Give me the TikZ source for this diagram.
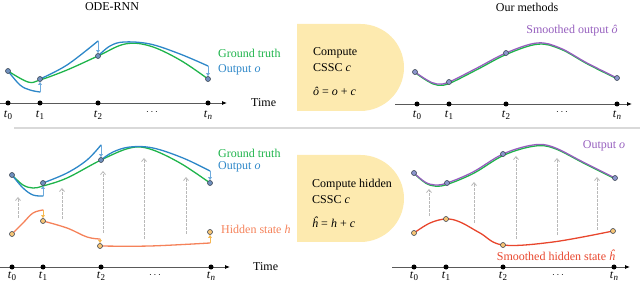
\documentclass[tikz,border=0pt]{standalone}
\usepackage{fontspec}
\setmainfont{Liberation Serif}
\usetikzlibrary{arrows.meta}
\definecolor{gtgreen}{RGB}{30,180,75}
\definecolor{outblue}{RGB}{45,135,200}
\definecolor{arrblue}{RGB}{110,170,220}
\definecolor{hidor}{RGB}{245,130,90}
\definecolor{arror}{RGB}{245,185,80}
\definecolor{smred}{RGB}{232,70,45}
\definecolor{smpurple}{RGB}{150,95,190}
\definecolor{boxy}{RGB}{253,234,175}
\definecolor{ptblue}{RGB}{112,145,190}
\definecolor{ptlav}{RGB}{140,150,205}
\definecolor{ptor}{RGB}{247,197,117}
\definecolor{ptline}{RGB}{60,70,85}
\newcommand{\tsub}[1]{\textit{t}\kern0.3pt\raisebox{-2pt}{\fontsize{9}{10}\selectfont #1}}
\tikzset{
  lbl/.style={font=\fontsize{12}{14}\selectfont, inner sep=1pt},
  pt/.style={circle, inner sep=0pt, minimum size=5pt, draw=ptline, line width=0.6pt},
  ptb/.style={pt, fill=ptblue},
  ptl/.style={pt, fill=ptlav},
  pto/.style={pt, fill=ptor},
  axdot/.style={circle, fill=black, inner sep=0pt, minimum size=5pt},
  axisline/.style={draw=black!65, line width=0.8pt, -{Latex[length=5pt,width=4pt,color=black]}},
  curve/.style={line width=1.3pt, line cap=round},
  garrow/.style={draw=gray!55, dash pattern=on 2.5pt off 1.5pt, line width=0.8pt, -{Straight Barb[length=3pt,width=5pt]}},
  barrow/.style={draw=arrblue, line width=0.8pt, -{Triangle[length=3pt,width=3.5pt]}},
  oarrow/.style={draw=arror, line width=0.8pt, -{Triangle[length=3pt,width=3.5pt]}},
  boxshape/.style={fill=boxy},
  dotslbl/.style={lbl, font=\fontsize{10}{11}\selectfont},
}
\begin{document}
\begin{tikzpicture}[x=1pt,y=-1pt]
\useasboundingbox (0,0) rectangle (640,283);

% headings
\node[lbl] (h1) at (112,7) {ODE-RNN};
\node[lbl] (h2) at (527,7) {Our methods};

% separator
\draw[gray!30, line width=1.2pt] (14,128) -- (640,128);

% middle boxes
\fill[boxshape] (297,24) -- (360.5,24) arc[start angle=-90, end angle=90, radius=43.5] -- (297,111) -- cycle;
\fill[boxshape] (297,155) -- (360.5,155) arc[start angle=-90, end angle=90, radius=43.5] -- (297,242) -- cycle;
\node[lbl, anchor=west] (b1a) at (312,53) {Compute};
\node[lbl, anchor=west] (b1b) at (312,68) {CSSC \textit{c}};
\node[lbl, anchor=west] (b1c) at (312,91) {\textit{ô} = \textit{o} + \textit{c}};
\node[lbl, anchor=west] (b2a) at (311,185) {Compute hidden};
\node[lbl, anchor=west] (b2b) at (311,200) {CSSC \textit{c}};
\node[lbl, anchor=west] (b2c) at (311,222) {\textit{ĥ} = \textit{h} + \textit{c}};

% ================= top-left =================
\coordinate (ax1s) at (0,103); \coordinate (ax1e) at (227,103);
\draw[axisline] (ax1s) -- (ax1e);
\foreach \x/\n/\l in {8/0/0,40/1/1,98/2/2,208/3/\textit{n}}{
  \node[axdot] (ta\n) at (\x,103) {};
  \node[lbl] (tla\n) at (\x,115) {\tsub{\l}};
}
\node[dotslbl] (dta) at (152,112) {$\cdots$};
\node[lbl, anchor=west] (timea) at (250,103) {Time};

\draw[curve, gtgreen] plot[smooth, tension=0.6] coordinates {(8,71) (28,82) (40,80) (67,70) (98,56) (125,44) (150,46) (180,60) (208,79)};
\coordinate (ba1) at (40,92); \coordinate (ba2) at (98,41); \coordinate (ba3) at (208,66);
\draw[curve, outblue] plot[smooth, tension=0.6] coordinates {(8,71) (20,85) (30,90) (ba1)};
\draw[curve, outblue] plot[smooth, tension=0.6] coordinates {(40,79) (67,65) (ba2)};
\draw[curve, outblue] plot[smooth, tension=0.6] coordinates {(98,56) (110,46) (124,42) (150,44) (180,54) (ba3)};
\node[ptb] (a0) at (8,71) {};
\node[ptb] (a1) at (40,79) {};
\node[ptb] (a2) at (98,56) {};
\node[ptb] (a3) at (208,79) {};
\draw[barrow] (ba1) -- (a1);
\draw[barrow] (ba2) -- (a2);
\draw[barrow] (ba3) -- (a3);
\node[lbl, anchor=west, text=gtgreen] (gta) at (217,53) {Ground truth};
\node[lbl, anchor=west, text=outblue] (oa) at (217,70) {Output \textit{o}};

% ================= bottom-left =================
\coordinate (ax2s) at (0,267); \coordinate (ax2e) at (230,267);
\draw[axisline] (ax2s) -- (ax2e);
\foreach \x/\n/\l in {12/0/0,43/1/1,101/2/2,211/3/\textit{n}}{
  \node[axdot] (tb\n) at (\x,267) {};
  \node[lbl] (tlb\n) at (\x,276) {\tsub{\l}};
}
\node[dotslbl] (dtb) at (155,275) {$\cdots$};
\node[lbl, anchor=west] (timeb) at (252,267) {Time};

% dashed influence arrows
\foreach \x/\ya/\yb [count=\i] in {18/218/197, 62/219/188, 103/233/171, 144/239/158, 186/234/177}{
  \coordinate (gbs\i) at (\x,\ya); \coordinate (gbe\i) at (\x,\yb);
  \draw[garrow] (gbs\i) -- (gbe\i);
}

\draw[curve, gtgreen] plot[smooth, tension=0.6] coordinates {(12,175) (23,185) (33,188) (43,186) (67,178) (101,160) (130,148) (150,149) (180,163) (210,183)};
\coordinate (bb1) at (43,196); \coordinate (bb2) at (101,145); \coordinate (bb3) at (210,171);
\draw[curve, outblue] plot[smooth, tension=0.6] coordinates {(12,175) (23,188) (33,195) (bb1)};
\draw[curve, outblue] plot[smooth, tension=0.6] coordinates {(43,183) (67,173) (87,160) (bb2)};
\draw[curve, outblue] plot[smooth, tension=0.6] coordinates {(101,160) (113,152) (130,147) (153,148) (183,158) (bb3)};
\node[ptb] (c0) at (12,175) {};
\node[ptb] (c1) at (43,183) {};
\node[ptb] (c2) at (101,160) {};
\node[ptb] (c3) at (210,183) {};
\draw[barrow] (bb1) -- (c1);
\draw[barrow] (bb2) -- (c2);
\draw[barrow] (bb3) -- (c3);

\coordinate (hb1) at (43,210); \coordinate (hb2) at (100,239); \coordinate (hb3) at (210,243);
\draw[curve, hidor] plot[smooth, tension=0.6] coordinates {(12,234) (23,223) (33,213) (hb1)};
\draw[curve, hidor] plot[smooth, tension=0.6] coordinates {(43,221) (67,228) (87,237) (hb2)};
\draw[curve, hidor] plot[smooth, tension=0.6] coordinates {(100,246) (150,246) (hb3)};
\node[pto] (d0) at (12,234) {};
\node[pto] (d1) at (43,221) {};
\node[pto] (d2) at (100,246) {};
\node[pto] (d3) at (210,232) {};
\draw[oarrow] (hb1) -- (d1);
\draw[oarrow] (hb2) -- (d2);
\draw[oarrow] (hb3) -- (d3);

\node[lbl, anchor=west, text=gtgreen] (gtb) at (217,153) {Ground truth};
\node[lbl, anchor=west, text=outblue] (ob) at (217,167) {Output \textit{o}};
\node[lbl, anchor=west, text=hidor] (hsb) at (220,229) {Hidden state \textit{h}};

% ================= top-right =================
\coordinate (ax3s) at (395,104); \coordinate (ax3e) at (632,104);
\draw[axisline] (ax3s) -- (ax3e);
\foreach \x/\n/\l in {417/0/0,449/1/1,506/2/2,617/3/\textit{n}}{
  \node[axdot] (tc\n) at (\x,104) {};
  \node[lbl] (tlc\n) at (\x,115) {\tsub{\l}};
}
\node[dotslbl] (dtc) at (562,112) {$\cdots$};

\draw[curve, gtgreen, shift={(0.8,1.2)}] plot[smooth, tension=0.6] coordinates {(415,72) (427,80) (437,84) (449,82) (477,68) (506,53) (537,43) (560,48) (587,63) (617,78)};
\draw[curve, smpurple] plot[smooth, tension=0.6] coordinates {(415,72) (427,80) (437,84) (449,82) (477,68) (506,53) (537,43) (560,48) (587,63) (617,78)};
\node[ptl] (e0) at (415,72) {};
\node[ptl] (e1) at (449,82) {};
\node[ptl] (e2) at (506,53) {};
\node[ptl] (e3) at (617,78) {};
\node[lbl, text=smpurple] (sot) at (572,31) {Smoothed output \textit{ô}};

% ================= bottom-right =================
\coordinate (ax4s) at (392,267); \coordinate (ax4e) at (630,267);
\draw[axisline] (ax4s) -- (ax4e);
\foreach \x/\n/\l in {414/0/0,446/1/1,503/2/2,614/3/\textit{n}}{
  \node[axdot] (td\n) at (\x,267) {};
  \node[lbl] (tld\n) at (\x,276) {\tsub{\l}};
}
\node[dotslbl] (dtd) at (558,275) {$\cdots$};

\foreach \x/\ya/\yb [count=\i] in {429/216/189, 474/223/182, 516/239/156, 557/235/158, 597/230/177}{
  \coordinate (gds\i) at (\x,\ya); \coordinate (gde\i) at (\x,\yb);
  \draw[garrow] (gds\i) -- (gde\i);
}

\draw[curve, gtgreen, shift={(0.8,1.2)}] plot[smooth, tension=0.6] coordinates {(414,173) (425,182) (435,185) (447,183) (473,172) (503,154) (533,145) (553,147) (583,162) (615,178)};
\draw[curve, smpurple] plot[smooth, tension=0.6] coordinates {(414,173) (425,182) (435,185) (447,183) (473,172) (503,154) (533,145) (553,147) (583,162) (615,178)};
\node[ptl] (f0) at (414,173) {};
\node[ptl] (f1) at (447,183) {};
\node[ptl] (f2) at (503,154) {};
\node[ptl] (f3) at (615,178) {};

\draw[curve, smred] plot[smooth, tension=0.6] coordinates {(414,233) (430,223) (446,219) (460,222) (480,233) (503,245) (553,242) (613,231)};
\node[pto] (g0) at (414,233) {};
\node[pto] (g1) at (446,219) {};
\node[pto] (g2) at (503,245) {};
\node[pto] (g3) at (613,231) {};

\node[lbl, text=smpurple] (od) at (604,146) {Output \textit{o}};
\node[lbl, text=smred] (shd) at (556,255) {Smoothed hidden state \textit{ĥ}};
\end{tikzpicture}
\end{document}
